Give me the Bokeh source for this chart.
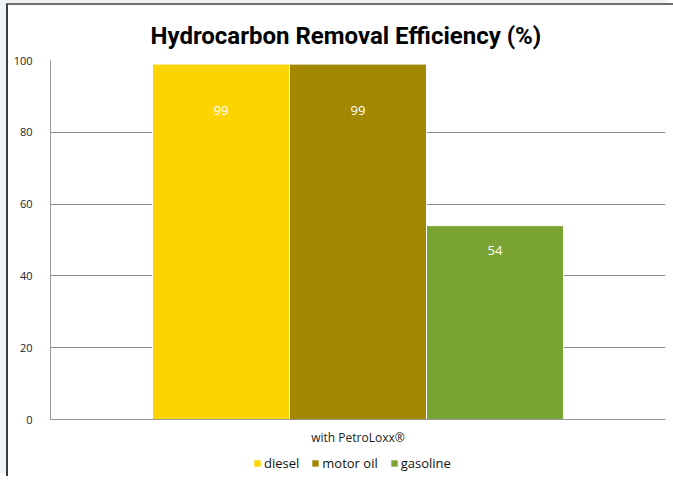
from bokeh.plotting import figure
from bokeh.models import ColumnDataSource, FactorRange, Range1d, Legend, LegendItem, FixedTicker
from bokeh.layouts import column
from bokeh.transform import dodge
from bokeh.core.properties import value
from bokeh.embed import file_html
from bokeh.resources import INLINE

group = ["with PetroLoxx®"]
series = ["diesel", "motor oil", "gasoline"]
efficiency = [99, 99, 54]
colors = ["#FDD300", "#A28800", "#79A332"]
y_ticks = [0, 20, 40, 60, 80, 100]

FONT = "Open Sans"
bw = 0.2228
offsets = [-bw, 0.0, bw]

p = figure(width=665, height=445, x_range=FactorRange(*group, range_padding=0),
           y_range=Range1d(0, 100), output_backend="svg", toolbar_location=None,
           min_border_left=42, min_border_right=8, min_border_top=55, min_border_bottom=31)

p.title.text = "Hydrocarbon Removal Efficiency (%)"
p.title.align = "left"
p.title.text_font = "Roboto"
p.title.text_font_style = "bold"
p.title.text_font_size = "24px"
p.title.text_color = "#000000"
p.title.offset = 100
p.title.standoff = 22

for name, v, c, off in zip(series, efficiency, colors, offsets):
    src = ColumnDataSource(dict(x=group, top=[v], lab=[str(v)], ly=[v * 0.87]))
    p.vbar(x=dodge("x", off, range=p.x_range), top="top", width=bw, source=src,
           fill_color=c, line_color="white", line_width=1)
    p.text(x=dodge("x", off, range=p.x_range), y="ly", text="lab", source=src,
           text_color="white", text_font=value(FONT), text_font_size="13px",
           text_align="center", text_baseline="middle")

p.yaxis.ticker = FixedTicker(ticks=y_ticks)
p.yaxis.major_tick_line_color = None
p.yaxis.minor_tick_line_color = None
p.yaxis.axis_line_color = "#999999"
p.yaxis.major_label_text_font = FONT
p.yaxis.major_label_text_font_size = "11px"
p.yaxis.major_label_text_color = "#222222"
p.yaxis.major_label_standoff = 12

p.xaxis.major_tick_line_color = None
p.xaxis.axis_line_color = "#999999"
p.xaxis.major_label_text_font = FONT
p.xaxis.major_label_text_font_size = "12px"
p.xaxis.major_label_text_color = "#222222"
p.xaxis.major_label_standoff = 3

p.xgrid.grid_line_color = None
p.ygrid.grid_line_color = "#8a8a8a"
p.ygrid.grid_line_width = 1
p.outline_line_color = None
p.background_fill_color = "white"
p.border_fill_color = "white"

# legend strip below the chart (swatch bars lie outside its visible y range)
lg = figure(width=665, height=26, x_range=Range1d(0, 1), y_range=Range1d(200, 300),
            output_backend="svg", toolbar_location=None,
            x_axis_location=None, y_axis_location=None,
            min_border_left=0, min_border_right=0, min_border_top=0, min_border_bottom=0)
lg.grid.grid_line_color = None
lg.outline_line_color = None
lg.border_fill_color = "white"
items = []
for name, v, c in zip(series, efficiency, colors):
    r = lg.vbar(x=[0.5], top=[v], width=0.1, fill_color=c, line_color=None)
    items.append(LegendItem(label=name, renderers=[r]))
legend = Legend(items=items, orientation="horizontal", location=(203, 3),
                label_text_font=FONT, label_text_font_size="13px", label_text_color="#111111",
                glyph_width=8, glyph_height=8, label_standoff=3, spacing=12, label_height=20,
                border_line_color=None, background_fill_alpha=0, padding=3, margin=0)
lg.add_layout(legend, "center")

layout = column(p, lg, spacing=0,
                styles={"margin-left": "6px", "margin-top": "3px",
                        "border-left": "2px solid #3a3a3a", "border-top": "2px solid #6e6e6e",
                        "box-shadow": "-6px -3px 0 0 #eef3f8"})
open("out.html", "w").write(file_html(layout, INLINE))
